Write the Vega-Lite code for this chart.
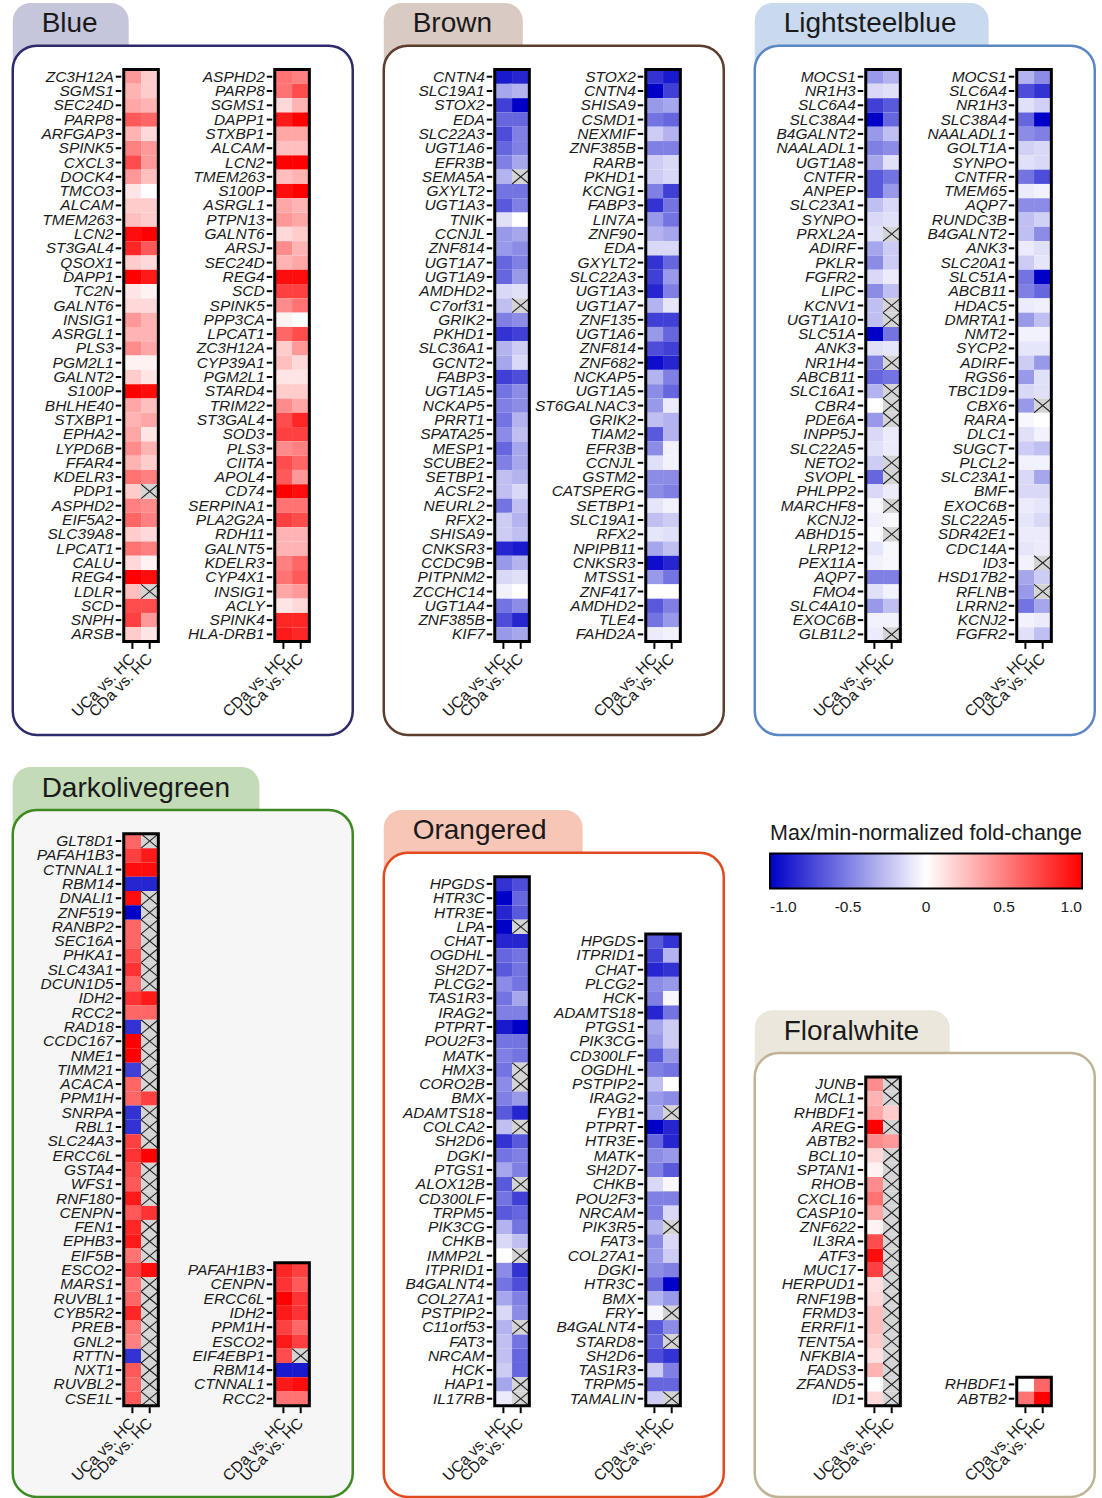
{
"$schema": "https://vega.github.io/schema/vega-lite/v6.json",
"background": "white",
"padding": {"left": 10.75, "top": 3, "right": 8, "bottom": 1},
"config": {
  "view": {"stroke": null},
  "axis": {"disable": true},
  "font": "Liberation Sans",
  "legend": {"orient": "none", "legendX": 757.25, "legendY": 820, "direction": "horizontal", "gradientLength": 312, "gradientThickness": 35, "gradientStrokeColor": "#000000", "gradientStrokeWidth": 2, "titleFontSize": 21.5, "titleFontWeight": "normal", "titleColor": "#1a1a1a", "titlePadding": 9, "titleLimit": 400, "labelFontSize": 15.5, "labelColor": "#1a1a1a", "labelOverlap": false, "padding": 0}
},
"datasets": {
"cols": [
{"m":"A","key":"v1","t":"UCa vs. HC"},{"m":"A","key":"v2","t":"CDa vs. HC"},{"m":"B","key":"v1","t":"CDa vs. HC"},{"m":"B","key":"v2","t":"UCa vs. HC"}
],
"cells": [
{"p":"Blue","m":"A","r":0,"g":"ZC3H12A","v1":0.4,"v2":0.2},
{"p":"Blue","m":"A","r":1,"g":"SGMS1","v1":0.3,"v2":0.2},
{"p":"Blue","m":"A","r":2,"g":"SEC24D","v1":0.35,"v2":0.3},
{"p":"Blue","m":"A","r":3,"g":"PARP8","v1":0.65,"v2":0.6},
{"p":"Blue","m":"A","r":4,"g":"ARFGAP3","v1":0.3,"v2":0.15},
{"p":"Blue","m":"A","r":5,"g":"SPINK5","v1":0.5,"v2":0.4},
{"p":"Blue","m":"A","r":6,"g":"CXCL3","v1":0.7,"v2":0.4},
{"p":"Blue","m":"A","r":7,"g":"DOCK4","v1":0.4,"v2":0.25},
{"p":"Blue","m":"A","r":8,"g":"TMCO3","v1":0.1,"v2":0},
{"p":"Blue","m":"A","r":9,"g":"ALCAM","v1":0.2,"v2":0.2},
{"p":"Blue","m":"A","r":10,"g":"TMEM263","v1":0.25,"v2":0.2},
{"p":"Blue","m":"A","r":11,"g":"LCN2","v1":0.95,"v2":1},
{"p":"Blue","m":"A","r":12,"g":"ST3GAL4","v1":0.85,"v2":0.65},
{"p":"Blue","m":"A","r":13,"g":"QSOX1","v1":0.2,"v2":0.15},
{"p":"Blue","m":"A","r":14,"g":"DAPP1","v1":1,"v2":0.9},
{"p":"Blue","m":"A","r":15,"g":"TC2N","v1":0.1,"v2":0.05},
{"p":"Blue","m":"A","r":16,"g":"GALNT6","v1":0.15,"v2":0.15},
{"p":"Blue","m":"A","r":17,"g":"INSIG1","v1":0.4,"v2":0.3},
{"p":"Blue","m":"A","r":18,"g":"ASRGL1","v1":0.3,"v2":0.3},
{"p":"Blue","m":"A","r":19,"g":"PLS3","v1":0.45,"v2":0.35},
{"p":"Blue","m":"A","r":20,"g":"PGM2L1","v1":0.05,"v2":0.05},
{"p":"Blue","m":"A","r":21,"g":"GALNT2","v1":0.2,"v2":0.1},
{"p":"Blue","m":"A","r":22,"g":"S100P","v1":1,"v2":0.95},
{"p":"Blue","m":"A","r":23,"g":"BHLHE40","v1":0.35,"v2":0.25},
{"p":"Blue","m":"A","r":24,"g":"STXBP1","v1":0.3,"v2":0.35},
{"p":"Blue","m":"A","r":25,"g":"EPHA2","v1":0.35,"v2":0.1},
{"p":"Blue","m":"A","r":26,"g":"LYPD6B","v1":0.45,"v2":0.3},
{"p":"Blue","m":"A","r":27,"g":"FFAR4","v1":0.3,"v2":0.2},
{"p":"Blue","m":"A","r":28,"g":"KDELR3","v1":0.55,"v2":0.5},
{"p":"Blue","m":"A","r":29,"g":"PDP1","v1":0.2,"v2":null},
{"p":"Blue","m":"A","r":30,"g":"ASPHD2","v1":0.5,"v2":0.45},
{"p":"Blue","m":"A","r":31,"g":"EIF5A2","v1":0.6,"v2":0.5},
{"p":"Blue","m":"A","r":32,"g":"SLC39A8","v1":0.2,"v2":0.15},
{"p":"Blue","m":"A","r":33,"g":"LPCAT1","v1":0.55,"v2":0.5},
{"p":"Blue","m":"A","r":34,"g":"CALU","v1":0.15,"v2":0.05},
{"p":"Blue","m":"A","r":35,"g":"REG4","v1":1,"v2":0.95},
{"p":"Blue","m":"A","r":36,"g":"LDLR","v1":0.25,"v2":null},
{"p":"Blue","m":"A","r":37,"g":"SCD","v1":0.7,"v2":0.7},
{"p":"Blue","m":"A","r":38,"g":"SNPH","v1":0.75,"v2":0.4},
{"p":"Blue","m":"A","r":39,"g":"ARSB","v1":0.2,"v2":0.1},
{"p":"Blue","m":"B","r":0,"g":"ASPHD2","v1":0.55,"v2":0.5},
{"p":"Blue","m":"B","r":1,"g":"PARP8","v1":0.55,"v2":0.7},
{"p":"Blue","m":"B","r":2,"g":"SGMS1","v1":0.15,"v2":0.3},
{"p":"Blue","m":"B","r":3,"g":"DAPP1","v1":0.9,"v2":1},
{"p":"Blue","m":"B","r":4,"g":"STXBP1","v1":0.35,"v2":0.35},
{"p":"Blue","m":"B","r":5,"g":"ALCAM","v1":0.25,"v2":0.25},
{"p":"Blue","m":"B","r":6,"g":"LCN2","v1":1,"v2":1},
{"p":"Blue","m":"B","r":7,"g":"TMEM263","v1":0.25,"v2":0.3},
{"p":"Blue","m":"B","r":8,"g":"S100P","v1":0.95,"v2":1},
{"p":"Blue","m":"B","r":9,"g":"ASRGL1","v1":0.35,"v2":0.3},
{"p":"Blue","m":"B","r":10,"g":"PTPN13","v1":0.4,"v2":0.35},
{"p":"Blue","m":"B","r":11,"g":"GALNT6","v1":0.15,"v2":0.2},
{"p":"Blue","m":"B","r":12,"g":"ARSJ","v1":0.45,"v2":0.3},
{"p":"Blue","m":"B","r":13,"g":"SEC24D","v1":0.3,"v2":0.35},
{"p":"Blue","m":"B","r":14,"g":"REG4","v1":0.95,"v2":0.95},
{"p":"Blue","m":"B","r":15,"g":"SCD","v1":0.75,"v2":0.75},
{"p":"Blue","m":"B","r":16,"g":"SPINK5","v1":0.45,"v2":0.55},
{"p":"Blue","m":"B","r":17,"g":"PPP3CA","v1":0.05,"v2":0},
{"p":"Blue","m":"B","r":18,"g":"LPCAT1","v1":0.6,"v2":0.7},
{"p":"Blue","m":"B","r":19,"g":"ZC3H12A","v1":0.2,"v2":0.4},
{"p":"Blue","m":"B","r":20,"g":"CYP39A1","v1":0.25,"v2":0.15},
{"p":"Blue","m":"B","r":21,"g":"PGM2L1","v1":0.1,"v2":0.1},
{"p":"Blue","m":"B","r":22,"g":"STARD4","v1":0.2,"v2":0.2},
{"p":"Blue","m":"B","r":23,"g":"TRIM22","v1":0.45,"v2":0.35},
{"p":"Blue","m":"B","r":24,"g":"ST3GAL4","v1":0.7,"v2":0.85},
{"p":"Blue","m":"B","r":25,"g":"SOD3","v1":0.75,"v2":0.75},
{"p":"Blue","m":"B","r":26,"g":"PLS3","v1":0.45,"v2":0.5},
{"p":"Blue","m":"B","r":27,"g":"CIITA","v1":0.7,"v2":0.6},
{"p":"Blue","m":"B","r":28,"g":"APOL4","v1":0.65,"v2":0.4},
{"p":"Blue","m":"B","r":29,"g":"CD74","v1":1,"v2":0.95},
{"p":"Blue","m":"B","r":30,"g":"SERPINA1","v1":0.55,"v2":0.55},
{"p":"Blue","m":"B","r":31,"g":"PLA2G2A","v1":0.75,"v2":0.7},
{"p":"Blue","m":"B","r":32,"g":"RDH11","v1":0.3,"v2":0.3},
{"p":"Blue","m":"B","r":33,"g":"GALNT5","v1":0.3,"v2":0.3},
{"p":"Blue","m":"B","r":34,"g":"KDELR3","v1":0.5,"v2":0.6},
{"p":"Blue","m":"B","r":35,"g":"CYP4X1","v1":0.55,"v2":0.65},
{"p":"Blue","m":"B","r":36,"g":"INSIG1","v1":0.35,"v2":0.4},
{"p":"Blue","m":"B","r":37,"g":"ACLY","v1":0.1,"v2":0.15},
{"p":"Blue","m":"B","r":38,"g":"SPINK4","v1":0.85,"v2":0.85},
{"p":"Blue","m":"B","r":39,"g":"HLA-DRB1","v1":0.9,"v2":0.85},
{"p":"Brown","m":"A","r":0,"g":"CNTN4","v1":-0.9,"v2":-0.85},
{"p":"Brown","m":"A","r":1,"g":"SLC19A1","v1":-0.35,"v2":-0.3},
{"p":"Brown","m":"A","r":2,"g":"STOX2","v1":-0.75,"v2":-1},
{"p":"Brown","m":"A","r":3,"g":"EDA","v1":-0.6,"v2":-0.6},
{"p":"Brown","m":"A","r":4,"g":"SLC22A3","v1":-0.7,"v2":-0.5},
{"p":"Brown","m":"A","r":5,"g":"UGT1A6","v1":-0.6,"v2":-0.5},
{"p":"Brown","m":"A","r":6,"g":"EFR3B","v1":-0.5,"v2":-0.35},
{"p":"Brown","m":"A","r":7,"g":"SEMA5A","v1":-0.3,"v2":null},
{"p":"Brown","m":"A","r":8,"g":"GXYLT2","v1":-0.55,"v2":-0.55},
{"p":"Brown","m":"A","r":9,"g":"UGT1A3","v1":-0.65,"v2":-0.5},
{"p":"Brown","m":"A","r":10,"g":"TNIK","v1":-0.12,"v2":0},
{"p":"Brown","m":"A","r":11,"g":"CCNJL","v1":-0.4,"v2":-0.35},
{"p":"Brown","m":"A","r":12,"g":"ZNF814","v1":-0.4,"v2":-0.45},
{"p":"Brown","m":"A","r":13,"g":"UGT1A7","v1":-0.6,"v2":-0.5},
{"p":"Brown","m":"A","r":14,"g":"UGT1A9","v1":-0.6,"v2":-0.4},
{"p":"Brown","m":"A","r":15,"g":"AMDHD2","v1":-0.15,"v2":-0.12},
{"p":"Brown","m":"A","r":16,"g":"C7orf31","v1":-0.25,"v2":null},
{"p":"Brown","m":"A","r":17,"g":"GRIK2","v1":-0.5,"v2":-0.45},
{"p":"Brown","m":"A","r":18,"g":"PKHD1","v1":-0.8,"v2":-0.75},
{"p":"Brown","m":"A","r":19,"g":"SLC36A1","v1":-0.3,"v2":-0.2},
{"p":"Brown","m":"A","r":20,"g":"GCNT2","v1":-0.35,"v2":-0.15},
{"p":"Brown","m":"A","r":21,"g":"FABP3","v1":-0.75,"v2":-0.7},
{"p":"Brown","m":"A","r":22,"g":"UGT1A5","v1":-0.55,"v2":-0.45},
{"p":"Brown","m":"A","r":23,"g":"NCKAP5","v1":-0.5,"v2":-0.45},
{"p":"Brown","m":"A","r":24,"g":"PRRT1","v1":-0.55,"v2":-0.3},
{"p":"Brown","m":"A","r":25,"g":"SPATA25","v1":-0.45,"v2":-0.25},
{"p":"Brown","m":"A","r":26,"g":"MESP1","v1":-0.6,"v2":-0.35},
{"p":"Brown","m":"A","r":27,"g":"SCUBE2","v1":-0.5,"v2":-0.35},
{"p":"Brown","m":"A","r":28,"g":"SETBP1","v1":-0.25,"v2":-0.3},
{"p":"Brown","m":"A","r":29,"g":"ACSF2","v1":-0.25,"v2":-0.15},
{"p":"Brown","m":"A","r":30,"g":"NEURL2","v1":-0.55,"v2":-0.25},
{"p":"Brown","m":"A","r":31,"g":"RFX2","v1":-0.2,"v2":-0.3},
{"p":"Brown","m":"A","r":32,"g":"SHISA9","v1":-0.2,"v2":-0.25},
{"p":"Brown","m":"A","r":33,"g":"CNKSR3","v1":-0.85,"v2":-0.9},
{"p":"Brown","m":"A","r":34,"g":"CCDC9B","v1":-0.4,"v2":-0.3},
{"p":"Brown","m":"A","r":35,"g":"PITPNM2","v1":-0.15,"v2":-0.12},
{"p":"Brown","m":"A","r":36,"g":"ZCCHC14","v1":-0.05,"v2":0},
{"p":"Brown","m":"A","r":37,"g":"UGT1A4","v1":-0.55,"v2":-0.45},
{"p":"Brown","m":"A","r":38,"g":"ZNF385B","v1":-0.7,"v2":-0.85},
{"p":"Brown","m":"A","r":39,"g":"KIF7","v1":-0.4,"v2":-0.35},
{"p":"Brown","m":"B","r":0,"g":"STOX2","v1":-0.8,"v2":-0.9},
{"p":"Brown","m":"B","r":1,"g":"CNTN4","v1":-1,"v2":-0.75},
{"p":"Brown","m":"B","r":2,"g":"SHISA9","v1":-0.4,"v2":-0.35},
{"p":"Brown","m":"B","r":3,"g":"CSMD1","v1":-0.55,"v2":-0.6},
{"p":"Brown","m":"B","r":4,"g":"NEXMIF","v1":-0.2,"v2":-0.3},
{"p":"Brown","m":"B","r":5,"g":"ZNF385B","v1":-0.5,"v2":-0.5},
{"p":"Brown","m":"B","r":6,"g":"RARB","v1":-0.2,"v2":-0.15},
{"p":"Brown","m":"B","r":7,"g":"PKHD1","v1":-0.2,"v2":-0.15},
{"p":"Brown","m":"B","r":8,"g":"KCNG1","v1":-0.5,"v2":-0.75},
{"p":"Brown","m":"B","r":9,"g":"FABP3","v1":-0.8,"v2":-0.55},
{"p":"Brown","m":"B","r":10,"g":"LIN7A","v1":-0.4,"v2":-0.55},
{"p":"Brown","m":"B","r":11,"g":"ZNF90","v1":-0.3,"v2":-0.35},
{"p":"Brown","m":"B","r":12,"g":"EDA","v1":-0.15,"v2":-0.15},
{"p":"Brown","m":"B","r":13,"g":"GXYLT2","v1":-0.8,"v2":-0.6},
{"p":"Brown","m":"B","r":14,"g":"SLC22A3","v1":-0.75,"v2":-0.4},
{"p":"Brown","m":"B","r":15,"g":"UGT1A3","v1":-0.85,"v2":-0.5},
{"p":"Brown","m":"B","r":16,"g":"UGT1A7","v1":-0.3,"v2":-0.1},
{"p":"Brown","m":"B","r":17,"g":"ZNF135","v1":-0.75,"v2":-0.75},
{"p":"Brown","m":"B","r":18,"g":"UGT1A6","v1":-0.4,"v2":-0.6},
{"p":"Brown","m":"B","r":19,"g":"ZNF814","v1":-0.7,"v2":-0.75},
{"p":"Brown","m":"B","r":20,"g":"ZNF682","v1":-0.95,"v2":-0.85},
{"p":"Brown","m":"B","r":21,"g":"NCKAP5","v1":-0.3,"v2":-0.5},
{"p":"Brown","m":"B","r":22,"g":"UGT1A5","v1":-0.45,"v2":-0.6},
{"p":"Brown","m":"B","r":23,"g":"ST6GALNAC3","v1":-0.4,"v2":-0.08},
{"p":"Brown","m":"B","r":24,"g":"GRIK2","v1":-0.25,"v2":-0.3},
{"p":"Brown","m":"B","r":25,"g":"TIAM2","v1":-0.65,"v2":-0.3},
{"p":"Brown","m":"B","r":26,"g":"EFR3B","v1":-0.45,"v2":-0.05},
{"p":"Brown","m":"B","r":27,"g":"CCNJL","v1":-0.12,"v2":-0.05},
{"p":"Brown","m":"B","r":28,"g":"GSTM2","v1":-0.45,"v2":-0.45},
{"p":"Brown","m":"B","r":29,"g":"CATSPERG","v1":-0.45,"v2":-0.5},
{"p":"Brown","m":"B","r":30,"g":"SETBP1","v1":-0.1,"v2":-0.05},
{"p":"Brown","m":"B","r":31,"g":"SLC19A1","v1":-0.25,"v2":-0.2},
{"p":"Brown","m":"B","r":32,"g":"RFX2","v1":-0.1,"v2":-0.12},
{"p":"Brown","m":"B","r":33,"g":"NPIPB11","v1":-0.35,"v2":-0.25},
{"p":"Brown","m":"B","r":34,"g":"CNKSR3","v1":-0.95,"v2":-0.85},
{"p":"Brown","m":"B","r":35,"g":"MTSS1","v1":-0.4,"v2":-0.55},
{"p":"Brown","m":"B","r":36,"g":"ZNF417","v1":0,"v2":0},
{"p":"Brown","m":"B","r":37,"g":"AMDHD2","v1":-0.65,"v2":-0.5},
{"p":"Brown","m":"B","r":38,"g":"TLE4","v1":-0.55,"v2":-0.4},
{"p":"Brown","m":"B","r":39,"g":"FAHD2A","v1":-0.08,"v2":-0.05},
{"p":"LSB","m":"A","r":0,"g":"MOCS1","v1":-0.4,"v2":-0.3},
{"p":"LSB","m":"A","r":1,"g":"NR1H3","v1":-0.15,"v2":-0.12},
{"p":"LSB","m":"A","r":2,"g":"SLC6A4","v1":-0.75,"v2":-0.65},
{"p":"LSB","m":"A","r":3,"g":"SLC38A4","v1":-1,"v2":-0.6},
{"p":"LSB","m":"A","r":4,"g":"B4GALNT2","v1":-0.4,"v2":-0.25},
{"p":"LSB","m":"A","r":5,"g":"NAALADL1","v1":-0.5,"v2":-0.45},
{"p":"LSB","m":"A","r":6,"g":"UGT1A8","v1":-0.35,"v2":-0.12},
{"p":"LSB","m":"A","r":7,"g":"CNTFR","v1":-0.65,"v2":-0.55},
{"p":"LSB","m":"A","r":8,"g":"ANPEP","v1":-0.65,"v2":-0.4},
{"p":"LSB","m":"A","r":9,"g":"SLC23A1","v1":-0.25,"v2":-0.15},
{"p":"LSB","m":"A","r":10,"g":"SYNPO","v1":-0.15,"v2":-0.12},
{"p":"LSB","m":"A","r":11,"g":"PRXL2A","v1":-0.12,"v2":null},
{"p":"LSB","m":"A","r":12,"g":"ADIRF","v1":-0.35,"v2":-0.2},
{"p":"LSB","m":"A","r":13,"g":"PKLR","v1":-0.45,"v2":-0.2},
{"p":"LSB","m":"A","r":14,"g":"FGFR2","v1":-0.15,"v2":-0.08},
{"p":"LSB","m":"A","r":15,"g":"LIPC","v1":-0.45,"v2":-0.25},
{"p":"LSB","m":"A","r":16,"g":"KCNV1","v1":-0.25,"v2":null},
{"p":"LSB","m":"A","r":17,"g":"UGT1A10","v1":-0.25,"v2":null},
{"p":"LSB","m":"A","r":18,"g":"SLC51A","v1":-1,"v2":-0.55},
{"p":"LSB","m":"A","r":19,"g":"ANK3","v1":-0.12,"v2":-0.1},
{"p":"LSB","m":"A","r":20,"g":"NR1H4","v1":-0.5,"v2":null},
{"p":"LSB","m":"A","r":21,"g":"ABCB11","v1":-0.6,"v2":-0.55},
{"p":"LSB","m":"A","r":22,"g":"SLC16A1","v1":-0.3,"v2":null},
{"p":"LSB","m":"A","r":23,"g":"CBR4","v1":0,"v2":null},
{"p":"LSB","m":"A","r":24,"g":"PDE6A","v1":-0.4,"v2":null},
{"p":"LSB","m":"A","r":25,"g":"INPP5J","v1":-0.15,"v2":-0.08},
{"p":"LSB","m":"A","r":26,"g":"SLC22A5","v1":-0.12,"v2":-0.08},
{"p":"LSB","m":"A","r":27,"g":"NETO2","v1":-0.2,"v2":null},
{"p":"LSB","m":"A","r":28,"g":"SVOPL","v1":-0.6,"v2":null},
{"p":"LSB","m":"A","r":29,"g":"PHLPP2","v1":-0.15,"v2":-0.08},
{"p":"LSB","m":"A","r":30,"g":"MARCHF8","v1":-0.03,"v2":null},
{"p":"LSB","m":"A","r":31,"g":"KCNJ2","v1":-0.06,"v2":-0.03},
{"p":"LSB","m":"A","r":32,"g":"ABHD15","v1":-0.02,"v2":null},
{"p":"LSB","m":"A","r":33,"g":"LRP12","v1":-0.1,"v2":-0.03},
{"p":"LSB","m":"A","r":34,"g":"PEX11A","v1":-0.05,"v2":-0.03},
{"p":"LSB","m":"A","r":35,"g":"AQP7","v1":-0.5,"v2":-0.5},
{"p":"LSB","m":"A","r":36,"g":"FMO4","v1":-0.12,"v2":-0.05},
{"p":"LSB","m":"A","r":37,"g":"SLC4A10","v1":-0.4,"v2":-0.25},
{"p":"LSB","m":"A","r":38,"g":"EXOC6B","v1":-0.05,"v2":-0.05},
{"p":"LSB","m":"A","r":39,"g":"GLB1L2","v1":-0.08,"v2":null},
{"p":"LSB","m":"B","r":0,"g":"MOCS1","v1":-0.3,"v2":-0.45},
{"p":"LSB","m":"B","r":1,"g":"SLC6A4","v1":-0.7,"v2":-0.8},
{"p":"LSB","m":"B","r":2,"g":"NR1H3","v1":-0.12,"v2":-0.18},
{"p":"LSB","m":"B","r":3,"g":"SLC38A4","v1":-0.6,"v2":-1},
{"p":"LSB","m":"B","r":4,"g":"NAALADL1","v1":-0.45,"v2":-0.5},
{"p":"LSB","m":"B","r":5,"g":"GOLT1A","v1":-0.18,"v2":-0.15},
{"p":"LSB","m":"B","r":6,"g":"SYNPO","v1":-0.12,"v2":-0.15},
{"p":"LSB","m":"B","r":7,"g":"CNTFR","v1":-0.55,"v2":-0.7},
{"p":"LSB","m":"B","r":8,"g":"TMEM65","v1":-0.08,"v2":-0.05},
{"p":"LSB","m":"B","r":9,"g":"AQP7","v1":-0.45,"v2":-0.45},
{"p":"LSB","m":"B","r":10,"g":"RUNDC3B","v1":-0.25,"v2":-0.18},
{"p":"LSB","m":"B","r":11,"g":"B4GALNT2","v1":-0.25,"v2":-0.45},
{"p":"LSB","m":"B","r":12,"g":"ANK3","v1":-0.08,"v2":-0.12},
{"p":"LSB","m":"B","r":13,"g":"SLC20A1","v1":-0.2,"v2":-0.1},
{"p":"LSB","m":"B","r":14,"g":"SLC51A","v1":-0.55,"v2":-1},
{"p":"LSB","m":"B","r":15,"g":"ABCB11","v1":-0.5,"v2":-0.6},
{"p":"LSB","m":"B","r":16,"g":"HDAC5","v1":-0.08,"v2":-0.06},
{"p":"LSB","m":"B","r":17,"g":"DMRTA1","v1":-0.4,"v2":-0.25},
{"p":"LSB","m":"B","r":18,"g":"NMT2","v1":-0.05,"v2":-0.05},
{"p":"LSB","m":"B","r":19,"g":"SYCP2","v1":-0.1,"v2":-0.1},
{"p":"LSB","m":"B","r":20,"g":"ADIRF","v1":-0.2,"v2":-0.4},
{"p":"LSB","m":"B","r":21,"g":"RGS6","v1":-0.4,"v2":-0.12},
{"p":"LSB","m":"B","r":22,"g":"TBC1D9","v1":-0.15,"v2":-0.12},
{"p":"LSB","m":"B","r":23,"g":"CBX6","v1":-0.4,"v2":null},
{"p":"LSB","m":"B","r":24,"g":"RARA","v1":-0.03,"v2":0},
{"p":"LSB","m":"B","r":25,"g":"DLC1","v1":-0.12,"v2":-0.05},
{"p":"LSB","m":"B","r":26,"g":"SUGCT","v1":-0.2,"v2":-0.25},
{"p":"LSB","m":"B","r":27,"g":"PLCL2","v1":-0.05,"v2":-0.05},
{"p":"LSB","m":"B","r":28,"g":"SLC23A1","v1":-0.15,"v2":-0.35},
{"p":"LSB","m":"B","r":29,"g":"BMF","v1":-0.15,"v2":-0.15},
{"p":"LSB","m":"B","r":30,"g":"EXOC6B","v1":-0.08,"v2":-0.1},
{"p":"LSB","m":"B","r":31,"g":"SLC22A5","v1":-0.1,"v2":-0.15},
{"p":"LSB","m":"B","r":32,"g":"SDR42E1","v1":-0.08,"v2":-0.08},
{"p":"LSB","m":"B","r":33,"g":"CDC14A","v1":-0.1,"v2":-0.08},
{"p":"LSB","m":"B","r":34,"g":"ID3","v1":-0.05,"v2":null},
{"p":"LSB","m":"B","r":35,"g":"HSD17B2","v1":-0.35,"v2":-0.2},
{"p":"LSB","m":"B","r":36,"g":"RFLNB","v1":-0.4,"v2":null},
{"p":"LSB","m":"B","r":37,"g":"LRRN2","v1":-0.55,"v2":-0.35},
{"p":"LSB","m":"B","r":38,"g":"KCNJ2","v1":-0.05,"v2":-0.08},
{"p":"LSB","m":"B","r":39,"g":"FGFR2","v1":-0.12,"v2":-0.25},
{"p":"DOG","m":"A","r":0,"g":"GLT8D1","v1":0.6,"v2":null},
{"p":"DOG","m":"A","r":1,"g":"PAFAH1B3","v1":0.75,"v2":0.9},
{"p":"DOG","m":"A","r":2,"g":"CTNNAL1","v1":0.95,"v2":0.95},
{"p":"DOG","m":"A","r":3,"g":"RBM14","v1":-0.85,"v2":-0.85},
{"p":"DOG","m":"A","r":4,"g":"DNALI1","v1":0.95,"v2":null},
{"p":"DOG","m":"A","r":5,"g":"ZNF519","v1":-1,"v2":null},
{"p":"DOG","m":"A","r":6,"g":"RANBP2","v1":0.6,"v2":null},
{"p":"DOG","m":"A","r":7,"g":"SEC16A","v1":0.6,"v2":null},
{"p":"DOG","m":"A","r":8,"g":"PHKA1","v1":0.7,"v2":null},
{"p":"DOG","m":"A","r":9,"g":"SLC43A1","v1":0.8,"v2":null},
{"p":"DOG","m":"A","r":10,"g":"DCUN1D5","v1":0.6,"v2":null},
{"p":"DOG","m":"A","r":11,"g":"IDH2","v1":0.8,"v2":0.9},
{"p":"DOG","m":"A","r":12,"g":"RCC2","v1":0.6,"v2":0.6},
{"p":"DOG","m":"A","r":13,"g":"RAD18","v1":-0.8,"v2":null},
{"p":"DOG","m":"A","r":14,"g":"CCDC167","v1":1,"v2":null},
{"p":"DOG","m":"A","r":15,"g":"NME1","v1":1,"v2":null},
{"p":"DOG","m":"A","r":16,"g":"TIMM21","v1":-0.75,"v2":null},
{"p":"DOG","m":"A","r":17,"g":"ACACA","v1":0.6,"v2":null},
{"p":"DOG","m":"A","r":18,"g":"PPM1H","v1":0.6,"v2":0.75},
{"p":"DOG","m":"A","r":19,"g":"SNRPA","v1":-0.8,"v2":null},
{"p":"DOG","m":"A","r":20,"g":"RBL1","v1":-0.8,"v2":null},
{"p":"DOG","m":"A","r":21,"g":"SLC24A3","v1":0.75,"v2":null},
{"p":"DOG","m":"A","r":22,"g":"ERCC6L","v1":0.8,"v2":1},
{"p":"DOG","m":"A","r":23,"g":"GSTA4","v1":0.7,"v2":null},
{"p":"DOG","m":"A","r":24,"g":"WFS1","v1":0.65,"v2":null},
{"p":"DOG","m":"A","r":25,"g":"RNF180","v1":0.9,"v2":null},
{"p":"DOG","m":"A","r":26,"g":"CENPN","v1":0.65,"v2":0.8},
{"p":"DOG","m":"A","r":27,"g":"FEN1","v1":0.85,"v2":null},
{"p":"DOG","m":"A","r":28,"g":"EPHB3","v1":0.9,"v2":null},
{"p":"DOG","m":"A","r":29,"g":"EIF5B","v1":0.55,"v2":null},
{"p":"DOG","m":"A","r":30,"g":"ESCO2","v1":0.75,"v2":0.95},
{"p":"DOG","m":"A","r":31,"g":"MARS1","v1":0.55,"v2":null},
{"p":"DOG","m":"A","r":32,"g":"RUVBL1","v1":0.6,"v2":null},
{"p":"DOG","m":"A","r":33,"g":"CYB5R2","v1":0.85,"v2":null},
{"p":"DOG","m":"A","r":34,"g":"PREB","v1":0.55,"v2":null},
{"p":"DOG","m":"A","r":35,"g":"GNL2","v1":0.5,"v2":null},
{"p":"DOG","m":"A","r":36,"g":"RTTN","v1":-0.8,"v2":null},
{"p":"DOG","m":"A","r":37,"g":"NXT1","v1":0.65,"v2":null},
{"p":"DOG","m":"A","r":38,"g":"RUVBL2","v1":0.6,"v2":null},
{"p":"DOG","m":"A","r":39,"g":"CSE1L","v1":0.65,"v2":null},
{"p":"DOG","m":"B","r":30,"g":"PAFAH1B3","v1":0.85,"v2":0.75},
{"p":"DOG","m":"B","r":31,"g":"CENPN","v1":0.8,"v2":0.65},
{"p":"DOG","m":"B","r":32,"g":"ERCC6L","v1":1,"v2":0.8},
{"p":"DOG","m":"B","r":33,"g":"IDH2","v1":0.9,"v2":0.8},
{"p":"DOG","m":"B","r":34,"g":"PPM1H","v1":0.75,"v2":0.6},
{"p":"DOG","m":"B","r":35,"g":"ESCO2","v1":0.9,"v2":0.75},
{"p":"DOG","m":"B","r":36,"g":"EIF4EBP1","v1":0.7,"v2":null},
{"p":"DOG","m":"B","r":37,"g":"RBM14","v1":-0.9,"v2":-0.9},
{"p":"DOG","m":"B","r":38,"g":"CTNNAL1","v1":0.9,"v2":0.95},
{"p":"DOG","m":"B","r":39,"g":"RCC2","v1":0.55,"v2":0.55},
{"p":"OR","m":"A","r":0,"g":"HPGDS","v1":-0.8,"v2":-0.7},
{"p":"OR","m":"A","r":1,"g":"HTR3C","v1":-1,"v2":-0.6},
{"p":"OR","m":"A","r":2,"g":"HTR3E","v1":-0.85,"v2":-0.65},
{"p":"OR","m":"A","r":3,"g":"LPA","v1":-1,"v2":null},
{"p":"OR","m":"A","r":4,"g":"CHAT","v1":-0.85,"v2":-0.85},
{"p":"OR","m":"A","r":5,"g":"OGDHL","v1":-0.6,"v2":-0.55},
{"p":"OR","m":"A","r":6,"g":"SH2D7","v1":-0.65,"v2":-0.55},
{"p":"OR","m":"A","r":7,"g":"PLCG2","v1":-0.45,"v2":-0.55},
{"p":"OR","m":"A","r":8,"g":"TAS1R3","v1":-0.55,"v2":-0.35},
{"p":"OR","m":"A","r":9,"g":"IRAG2","v1":-0.5,"v2":-0.5},
{"p":"OR","m":"A","r":10,"g":"PTPRT","v1":-0.9,"v2":-1},
{"p":"OR","m":"A","r":11,"g":"POU2F3","v1":-0.55,"v2":-0.55},
{"p":"OR","m":"A","r":12,"g":"MATK","v1":-0.5,"v2":-0.55},
{"p":"OR","m":"A","r":13,"g":"HMX3","v1":-0.55,"v2":null},
{"p":"OR","m":"A","r":14,"g":"CORO2B","v1":-0.45,"v2":null},
{"p":"OR","m":"A","r":15,"g":"BMX","v1":-0.5,"v2":-0.4},
{"p":"OR","m":"A","r":16,"g":"ADAMTS18","v1":-0.65,"v2":-0.85},
{"p":"OR","m":"A","r":17,"g":"COLCA2","v1":-0.25,"v2":null},
{"p":"OR","m":"A","r":18,"g":"SH2D6","v1":-0.8,"v2":-0.65},
{"p":"OR","m":"A","r":19,"g":"DGKI","v1":-0.55,"v2":-0.5},
{"p":"OR","m":"A","r":20,"g":"PTGS1","v1":-0.35,"v2":-0.5},
{"p":"OR","m":"A","r":21,"g":"ALOX12B","v1":-0.65,"v2":null},
{"p":"OR","m":"A","r":22,"g":"CD300LF","v1":-0.55,"v2":-0.75},
{"p":"OR","m":"A","r":23,"g":"TRPM5","v1":-0.65,"v2":-0.6},
{"p":"OR","m":"A","r":24,"g":"PIK3CG","v1":-0.3,"v2":-0.55},
{"p":"OR","m":"A","r":25,"g":"CHKB","v1":-0.15,"v2":-0.25},
{"p":"OR","m":"A","r":26,"g":"IMMP2L","v1":0,"v2":null},
{"p":"OR","m":"A","r":27,"g":"ITPRID1","v1":-0.45,"v2":-0.8},
{"p":"OR","m":"A","r":28,"g":"B4GALNT4","v1":-0.55,"v2":-0.7},
{"p":"OR","m":"A","r":29,"g":"COL27A1","v1":-0.35,"v2":-0.5},
{"p":"OR","m":"A","r":30,"g":"PSTPIP2","v1":-0.15,"v2":-0.45},
{"p":"OR","m":"A","r":31,"g":"C11orf53","v1":-0.3,"v2":null},
{"p":"OR","m":"A","r":32,"g":"FAT3","v1":-0.25,"v2":-0.55},
{"p":"OR","m":"A","r":33,"g":"NRCAM","v1":-0.25,"v2":-0.6},
{"p":"OR","m":"A","r":34,"g":"HCK","v1":-0.2,"v2":-0.6},
{"p":"OR","m":"A","r":35,"g":"HAP1","v1":-0.35,"v2":null},
{"p":"OR","m":"A","r":36,"g":"IL17RB","v1":-0.08,"v2":null},
{"p":"OR","m":"B","r":4,"g":"HPGDS","v1":-0.65,"v2":-0.8},
{"p":"OR","m":"B","r":5,"g":"ITPRID1","v1":-0.75,"v2":-0.3},
{"p":"OR","m":"B","r":6,"g":"CHAT","v1":-0.85,"v2":-0.8},
{"p":"OR","m":"B","r":7,"g":"PLCG2","v1":-0.45,"v2":-0.4},
{"p":"OR","m":"B","r":8,"g":"HCK","v1":-0.5,"v2":-0.03},
{"p":"OR","m":"B","r":9,"g":"ADAMTS18","v1":-0.85,"v2":-0.55},
{"p":"OR","m":"B","r":10,"g":"PTGS1","v1":-0.35,"v2":-0.2},
{"p":"OR","m":"B","r":11,"g":"PIK3CG","v1":-0.4,"v2":-0.2},
{"p":"OR","m":"B","r":12,"g":"CD300LF","v1":-0.65,"v2":-0.4},
{"p":"OR","m":"B","r":13,"g":"OGDHL","v1":-0.5,"v2":-0.55},
{"p":"OR","m":"B","r":14,"g":"PSTPIP2","v1":-0.25,"v2":0},
{"p":"OR","m":"B","r":15,"g":"IRAG2","v1":-0.4,"v2":-0.45},
{"p":"OR","m":"B","r":16,"g":"FYB1","v1":-0.35,"v2":null},
{"p":"OR","m":"B","r":17,"g":"PTPRT","v1":-1,"v2":-0.85},
{"p":"OR","m":"B","r":18,"g":"HTR3E","v1":-0.6,"v2":-0.85},
{"p":"OR","m":"B","r":19,"g":"MATK","v1":-0.45,"v2":-0.4},
{"p":"OR","m":"B","r":20,"g":"SH2D7","v1":-0.5,"v2":-0.65},
{"p":"OR","m":"B","r":21,"g":"CHKB","v1":-0.15,"v2":-0.03},
{"p":"OR","m":"B","r":22,"g":"POU2F3","v1":-0.5,"v2":-0.5},
{"p":"OR","m":"B","r":23,"g":"NRCAM","v1":-0.5,"v2":-0.15},
{"p":"OR","m":"B","r":24,"g":"PIK3R5","v1":-0.3,"v2":null},
{"p":"OR","m":"B","r":25,"g":"FAT3","v1":-0.45,"v2":-0.15},
{"p":"OR","m":"B","r":26,"g":"COL27A1","v1":-0.4,"v2":-0.2},
{"p":"OR","m":"B","r":27,"g":"DGKI","v1":-0.45,"v2":-0.5},
{"p":"OR","m":"B","r":28,"g":"HTR3C","v1":-0.6,"v2":-1},
{"p":"OR","m":"B","r":29,"g":"BMX","v1":-0.3,"v2":-0.4},
{"p":"OR","m":"B","r":30,"g":"FRY","v1":-0.03,"v2":null},
{"p":"OR","m":"B","r":31,"g":"B4GALNT4","v1":-0.65,"v2":-0.45},
{"p":"OR","m":"B","r":32,"g":"STARD8","v1":-0.6,"v2":null},
{"p":"OR","m":"B","r":33,"g":"SH2D6","v1":-0.7,"v2":-0.8},
{"p":"OR","m":"B","r":34,"g":"TAS1R3","v1":-0.2,"v2":-0.5},
{"p":"OR","m":"B","r":35,"g":"TRPM5","v1":-0.6,"v2":-0.6},
{"p":"OR","m":"B","r":36,"g":"TAMALIN","v1":-0.2,"v2":null},
{"p":"FW","m":"A","r":0,"g":"JUNB","v1":0.45,"v2":null},
{"p":"FW","m":"A","r":1,"g":"MCL1","v1":0.3,"v2":null},
{"p":"FW","m":"A","r":2,"g":"RHBDF1","v1":0.35,"v2":0.2},
{"p":"FW","m":"A","r":3,"g":"AREG","v1":1,"v2":null},
{"p":"FW","m":"A","r":4,"g":"ABTB2","v1":0.45,"v2":0.4},
{"p":"FW","m":"A","r":5,"g":"BCL10","v1":0.15,"v2":null},
{"p":"FW","m":"A","r":6,"g":"SPTAN1","v1":0.05,"v2":null},
{"p":"FW","m":"A","r":7,"g":"RHOB","v1":0.45,"v2":null},
{"p":"FW","m":"A","r":8,"g":"CXCL16","v1":0.55,"v2":null},
{"p":"FW","m":"A","r":9,"g":"CASP10","v1":0.35,"v2":null},
{"p":"FW","m":"A","r":10,"g":"ZNF622","v1":0.05,"v2":null},
{"p":"FW","m":"A","r":11,"g":"IL3RA","v1":0.7,"v2":null},
{"p":"FW","m":"A","r":12,"g":"ATF3","v1":0.95,"v2":null},
{"p":"FW","m":"A","r":13,"g":"MUC17","v1":0.75,"v2":null},
{"p":"FW","m":"A","r":14,"g":"HERPUD1","v1":0.12,"v2":null},
{"p":"FW","m":"A","r":15,"g":"RNF19B","v1":0.15,"v2":null},
{"p":"FW","m":"A","r":16,"g":"FRMD3","v1":0.25,"v2":null},
{"p":"FW","m":"A","r":17,"g":"ERRFI1","v1":0.25,"v2":null},
{"p":"FW","m":"A","r":18,"g":"TENT5A","v1":0.2,"v2":null},
{"p":"FW","m":"A","r":19,"g":"NFKBIA","v1":0.12,"v2":null},
{"p":"FW","m":"A","r":20,"g":"FADS3","v1":0.3,"v2":null},
{"p":"FW","m":"A","r":21,"g":"ZFAND5","v1":0,"v2":null},
{"p":"FW","m":"A","r":22,"g":"ID1","v1":0.15,"v2":null},
{"p":"FW","m":"B","r":21,"g":"RHBDF1","v1":0,"v2":0.6},
{"p":"FW","m":"B","r":22,"g":"ABTB2","v1":0.55,"v2":1}
]
},
"concat": [
{"width": 340, "height": 732, "resolve": {"scale": {"x": "independent"}}, "layer": [
 {"data": {"values": [{}]}, "layer": [
  {"mark": {"type": "rect", "cornerRadius": 18, "fill": "#c5c5dc"}, "encoding": {"x": {"datum": 0, "type": "quantitative", "scale": {"domain": [0, 1], "nice": false, "zero": false}}, "x2": {"datum": 0.341}, "y": {"datum": -5.154, "type": "quantitative", "scale": {"domain": [-5.154, 46.035], "reverse": true, "nice": false, "zero": false}}, "y2": {"datum": 0.6}}},
  {"mark": {"type": "rect", "cornerRadius": 24, "fill": "#ffffff", "stroke": "#2d2b6b", "strokeWidth": 2.5}, "encoding": {"x": {"datum": 0, "type": "quantitative"}, "x2": {"datum": 1}, "y": {"datum": -2.17, "type": "quantitative"}, "y2": {"datum": 46.035}}},
  {"mark": {"type": "text", "text": "Blue", "align": "left", "baseline": "alphabetic", "fontSize": 28, "color": "#1a1a1a"}, "encoding": {"x": {"datum": 0.085, "type": "quantitative"}, "y": {"datum": -3.11, "type": "quantitative"}}}
 ]},
 {"data": {"name": "cells"}, "transform": [{"filter": "datum.p == 'Blue'"}], "layer": [
  {"transform": [{"fold": ["v1", "v2"]}, {"filter": "datum.value != null"}], "mark": {"type": "rect", "yOffset": -7.15, "y2Offset": 7.15}, "encoding": {"x": {"field": "m", "type": "nominal", "scale": {"domain": ["A", "B"], "range": [111, 296.6], "paddingInner": 0.7709, "paddingOuter": 0}}, "xOffset": {"field": "key", "type": "nominal", "scale": {"domain": ["v1", "v2"]}}, "y": {"field": "r", "type": "quantitative", "scale": {"domain": [-5.154, 46.035], "reverse": true, "nice": false, "zero": false}}, "y2": {"field": "r"}, "color": {"field": "value", "type": "quantitative", "scale": {"domain": [-1, 0, 1], "range": ["#0000c8", "#ffffff", "#ff0000"], "interpolate": "rgb"}, "legend": {"title": "Max/min-normalized fold-change", "values": [-1, -0.5, 0, 0.5, 1], "labelAlign": "center", "labelOffset": 11, "labelFontSize": 15.5, "labelExpr": "datum.value == 0 ? '0' : (datum.value < 0 ? '-' + format(-datum.value, '.1f') : format(datum.value, '.1f'))"}}}},
  {"transform": [{"fold": ["v1", "v2"]}, {"filter": "datum.value == null"}], "mark": {"type": "rect", "yOffset": -7.15, "y2Offset": 7.15, "color": "#d4d4d4"}, "encoding": {"x": {"field": "m", "type": "nominal"}, "xOffset": {"field": "key", "type": "nominal"}, "y": {"field": "r", "type": "quantitative"}, "y2": {"field": "r"}}},
  {"transform": [{"fold": ["v1", "v2"]}, {"filter": "datum.value == null"}], "mark": {"type": "point", "shape": "M-1,-0.827L1,0.827M1,-0.827L-1,0.827", "size": 299, "filled": false, "stroke": "#222222", "strokeWidth": 1.1, "opacity": 1}, "encoding": {"x": {"field": "m", "type": "nominal"}, "xOffset": {"field": "key", "type": "nominal"}, "y": {"field": "r", "type": "quantitative"}}},
  {"mark": {"type": "text", "align": "right", "baseline": "middle", "dx": -10, "fontSize": 15.5, "fontStyle": "italic", "color": "#1a1a1a"}, "encoding": {"x": {"field": "m", "type": "nominal", "bandPosition": 0}, "y": {"field": "r", "type": "quantitative"}, "text": {"field": "g"}}},
  {"mark": {"type": "rule", "xOffset": -8, "x2Offset": -2.5, "strokeWidth": 2, "color": "#000000"}, "encoding": {"x": {"field": "m", "type": "nominal", "bandPosition": 0}, "x2": {"field": "m", "bandPosition": 0}, "y": {"field": "r", "type": "quantitative"}}},
  {"mark": {"type": "rect", "fill": "transparent", "stroke": "#000000", "strokeWidth": 3, "yOffset": -7.15, "y2Offset": 7.15}, "encoding": {"x": {"field": "m", "type": "nominal"}, "y": {"field": "r", "aggregate": "min", "type": "quantitative"}, "y2": {"field": "r", "aggregate": "max"}}},
  {"data": {"name": "cols"}, "mark": {"type": "rule", "yOffset": 8.5, "y2Offset": 14.5, "strokeWidth": 2, "color": "#000000"}, "encoding": {"x": {"field": "m", "type": "nominal"}, "xOffset": {"field": "key", "type": "nominal"}, "y": {"datum": 39, "type": "quantitative"}, "y2": {"datum": 39}}},
  {"data": {"name": "cols"}, "mark": {"type": "text", "angle": 315, "align": "right", "baseline": "middle", "fontSize": 15.5, "yOffset": 22, "color": "#1a1a1a"}, "encoding": {"x": {"field": "m", "type": "nominal"}, "xOffset": {"field": "key", "type": "nominal"}, "y": {"datum": 39, "type": "quantitative"}, "text": {"field": "t"}}}
 ]}
]},
{"width": 340, "height": 732, "resolve": {"scale": {"x": "independent"}}, "layer": [
 {"data": {"values": [{}]}, "layer": [
  {"mark": {"type": "rect", "cornerRadius": 18, "fill": "#d9cac3"}, "encoding": {"x": {"datum": 0, "type": "quantitative", "scale": {"domain": [0, 1], "nice": false, "zero": false}}, "x2": {"datum": 0.409}, "y": {"datum": -5.154, "type": "quantitative", "scale": {"domain": [-5.154, 46.035], "reverse": true, "nice": false, "zero": false}}, "y2": {"datum": 0.6}}},
  {"mark": {"type": "rect", "cornerRadius": 24, "fill": "#ffffff", "stroke": "#5c3d2e", "strokeWidth": 2.5}, "encoding": {"x": {"datum": 0, "type": "quantitative"}, "x2": {"datum": 1}, "y": {"datum": -2.17, "type": "quantitative"}, "y2": {"datum": 46.035}}},
  {"mark": {"type": "text", "text": "Brown", "align": "left", "baseline": "alphabetic", "fontSize": 28, "color": "#1a1a1a"}, "encoding": {"x": {"datum": 0.085, "type": "quantitative"}, "y": {"datum": -3.11, "type": "quantitative"}}}
 ]},
 {"data": {"name": "cells"}, "transform": [{"filter": "datum.p == 'Brown'"}], "layer": [
  {"transform": [{"fold": ["v1", "v2"]}, {"filter": "datum.value != null"}], "mark": {"type": "rect", "yOffset": -7.15, "y2Offset": 7.15}, "encoding": {"x": {"field": "m", "type": "nominal", "scale": {"domain": ["A", "B"], "range": [111, 296.6], "paddingInner": 0.7709, "paddingOuter": 0}}, "xOffset": {"field": "key", "type": "nominal", "scale": {"domain": ["v1", "v2"]}}, "y": {"field": "r", "type": "quantitative", "scale": {"domain": [-5.154, 46.035], "reverse": true, "nice": false, "zero": false}}, "y2": {"field": "r"}, "color": {"field": "value", "type": "quantitative", "scale": {"domain": [-1, 0, 1], "range": ["#0000c8", "#ffffff", "#ff0000"], "interpolate": "rgb"}, "legend": {"title": "Max/min-normalized fold-change", "values": [-1, -0.5, 0, 0.5, 1], "labelAlign": "center", "labelOffset": 11, "labelFontSize": 15.5, "labelExpr": "datum.value == 0 ? '0' : (datum.value < 0 ? '-' + format(-datum.value, '.1f') : format(datum.value, '.1f'))"}}}},
  {"transform": [{"fold": ["v1", "v2"]}, {"filter": "datum.value == null"}], "mark": {"type": "rect", "yOffset": -7.15, "y2Offset": 7.15, "color": "#d4d4d4"}, "encoding": {"x": {"field": "m", "type": "nominal"}, "xOffset": {"field": "key", "type": "nominal"}, "y": {"field": "r", "type": "quantitative"}, "y2": {"field": "r"}}},
  {"transform": [{"fold": ["v1", "v2"]}, {"filter": "datum.value == null"}], "mark": {"type": "point", "shape": "M-1,-0.827L1,0.827M1,-0.827L-1,0.827", "size": 299, "filled": false, "stroke": "#222222", "strokeWidth": 1.1, "opacity": 1}, "encoding": {"x": {"field": "m", "type": "nominal"}, "xOffset": {"field": "key", "type": "nominal"}, "y": {"field": "r", "type": "quantitative"}}},
  {"mark": {"type": "text", "align": "right", "baseline": "middle", "dx": -10, "fontSize": 15.5, "fontStyle": "italic", "color": "#1a1a1a"}, "encoding": {"x": {"field": "m", "type": "nominal", "bandPosition": 0}, "y": {"field": "r", "type": "quantitative"}, "text": {"field": "g"}}},
  {"mark": {"type": "rule", "xOffset": -8, "x2Offset": -2.5, "strokeWidth": 2, "color": "#000000"}, "encoding": {"x": {"field": "m", "type": "nominal", "bandPosition": 0}, "x2": {"field": "m", "bandPosition": 0}, "y": {"field": "r", "type": "quantitative"}}},
  {"mark": {"type": "rect", "fill": "transparent", "stroke": "#000000", "strokeWidth": 3, "yOffset": -7.15, "y2Offset": 7.15}, "encoding": {"x": {"field": "m", "type": "nominal"}, "y": {"field": "r", "aggregate": "min", "type": "quantitative"}, "y2": {"field": "r", "aggregate": "max"}}},
  {"data": {"name": "cols"}, "mark": {"type": "rule", "yOffset": 8.5, "y2Offset": 14.5, "strokeWidth": 2, "color": "#000000"}, "encoding": {"x": {"field": "m", "type": "nominal"}, "xOffset": {"field": "key", "type": "nominal"}, "y": {"datum": 39, "type": "quantitative"}, "y2": {"datum": 39}}},
  {"data": {"name": "cols"}, "mark": {"type": "text", "angle": 315, "align": "right", "baseline": "middle", "fontSize": 15.5, "yOffset": 22, "color": "#1a1a1a"}, "encoding": {"x": {"field": "m", "type": "nominal"}, "xOffset": {"field": "key", "type": "nominal"}, "y": {"datum": 39, "type": "quantitative"}, "text": {"field": "t"}}}
 ]}
]},
{"width": 340, "height": 732, "resolve": {"scale": {"x": "independent"}}, "layer": [
 {"data": {"values": [{}]}, "layer": [
  {"mark": {"type": "rect", "cornerRadius": 18, "fill": "#c9d9ee"}, "encoding": {"x": {"datum": 0, "type": "quantitative", "scale": {"domain": [0, 1], "nice": false, "zero": false}}, "x2": {"datum": 0.688}, "y": {"datum": -5.154, "type": "quantitative", "scale": {"domain": [-5.154, 46.035], "reverse": true, "nice": false, "zero": false}}, "y2": {"datum": 0.6}}},
  {"mark": {"type": "rect", "cornerRadius": 24, "fill": "#ffffff", "stroke": "#5b87c5", "strokeWidth": 2.5}, "encoding": {"x": {"datum": 0, "type": "quantitative"}, "x2": {"datum": 1}, "y": {"datum": -2.17, "type": "quantitative"}, "y2": {"datum": 46.035}}},
  {"mark": {"type": "text", "text": "Lightsteelblue", "align": "left", "baseline": "alphabetic", "fontSize": 28, "color": "#1a1a1a"}, "encoding": {"x": {"datum": 0.085, "type": "quantitative"}, "y": {"datum": -3.11, "type": "quantitative"}}}
 ]},
 {"data": {"name": "cells"}, "transform": [{"filter": "datum.p == 'LSB'"}], "layer": [
  {"transform": [{"fold": ["v1", "v2"]}, {"filter": "datum.value != null"}], "mark": {"type": "rect", "yOffset": -7.15, "y2Offset": 7.15}, "encoding": {"x": {"field": "m", "type": "nominal", "scale": {"domain": ["A", "B"], "range": [111, 296.6], "paddingInner": 0.7709, "paddingOuter": 0}}, "xOffset": {"field": "key", "type": "nominal", "scale": {"domain": ["v1", "v2"]}}, "y": {"field": "r", "type": "quantitative", "scale": {"domain": [-5.154, 46.035], "reverse": true, "nice": false, "zero": false}}, "y2": {"field": "r"}, "color": {"field": "value", "type": "quantitative", "scale": {"domain": [-1, 0, 1], "range": ["#0000c8", "#ffffff", "#ff0000"], "interpolate": "rgb"}, "legend": {"title": "Max/min-normalized fold-change", "values": [-1, -0.5, 0, 0.5, 1], "labelAlign": "center", "labelOffset": 11, "labelFontSize": 15.5, "labelExpr": "datum.value == 0 ? '0' : (datum.value < 0 ? '-' + format(-datum.value, '.1f') : format(datum.value, '.1f'))"}}}},
  {"transform": [{"fold": ["v1", "v2"]}, {"filter": "datum.value == null"}], "mark": {"type": "rect", "yOffset": -7.15, "y2Offset": 7.15, "color": "#d4d4d4"}, "encoding": {"x": {"field": "m", "type": "nominal"}, "xOffset": {"field": "key", "type": "nominal"}, "y": {"field": "r", "type": "quantitative"}, "y2": {"field": "r"}}},
  {"transform": [{"fold": ["v1", "v2"]}, {"filter": "datum.value == null"}], "mark": {"type": "point", "shape": "M-1,-0.827L1,0.827M1,-0.827L-1,0.827", "size": 299, "filled": false, "stroke": "#222222", "strokeWidth": 1.1, "opacity": 1}, "encoding": {"x": {"field": "m", "type": "nominal"}, "xOffset": {"field": "key", "type": "nominal"}, "y": {"field": "r", "type": "quantitative"}}},
  {"mark": {"type": "text", "align": "right", "baseline": "middle", "dx": -10, "fontSize": 15.5, "fontStyle": "italic", "color": "#1a1a1a"}, "encoding": {"x": {"field": "m", "type": "nominal", "bandPosition": 0}, "y": {"field": "r", "type": "quantitative"}, "text": {"field": "g"}}},
  {"mark": {"type": "rule", "xOffset": -8, "x2Offset": -2.5, "strokeWidth": 2, "color": "#000000"}, "encoding": {"x": {"field": "m", "type": "nominal", "bandPosition": 0}, "x2": {"field": "m", "bandPosition": 0}, "y": {"field": "r", "type": "quantitative"}}},
  {"mark": {"type": "rect", "fill": "transparent", "stroke": "#000000", "strokeWidth": 3, "yOffset": -7.15, "y2Offset": 7.15}, "encoding": {"x": {"field": "m", "type": "nominal"}, "y": {"field": "r", "aggregate": "min", "type": "quantitative"}, "y2": {"field": "r", "aggregate": "max"}}},
  {"data": {"name": "cols"}, "mark": {"type": "rule", "yOffset": 8.5, "y2Offset": 14.5, "strokeWidth": 2, "color": "#000000"}, "encoding": {"x": {"field": "m", "type": "nominal"}, "xOffset": {"field": "key", "type": "nominal"}, "y": {"datum": 39, "type": "quantitative"}, "y2": {"datum": 39}}},
  {"data": {"name": "cols"}, "mark": {"type": "text", "angle": 315, "align": "right", "baseline": "middle", "fontSize": 15.5, "yOffset": 22, "color": "#1a1a1a"}, "encoding": {"x": {"field": "m", "type": "nominal"}, "xOffset": {"field": "key", "type": "nominal"}, "y": {"datum": 39, "type": "quantitative"}, "text": {"field": "t"}}}
 ]}
]},
{"width": 340, "height": 731, "resolve": {"scale": {"x": "independent"}}, "layer": [
 {"data": {"values": [{}]}, "layer": [
  {"mark": {"type": "rect", "cornerRadius": 18, "fill": "#c3dcb7"}, "encoding": {"x": {"datum": 0, "type": "quantitative", "scale": {"domain": [0, 1], "nice": false, "zero": false}}, "x2": {"datum": 0.7256}, "y": {"datum": -5.17, "type": "quantitative", "scale": {"domain": [-5.2448, 45.874], "reverse": true, "nice": false, "zero": false}}, "y2": {"datum": 0.6}}},
  {"mark": {"type": "rect", "cornerRadius": 24, "fill": "#f6f6f6", "stroke": "#3d8a22", "strokeWidth": 2.5}, "encoding": {"x": {"datum": 0, "type": "quantitative"}, "x2": {"datum": 1}, "y": {"datum": -2.17, "type": "quantitative"}, "y2": {"datum": 45.874}}},
  {"mark": {"type": "text", "text": "Darkolivegreen", "align": "left", "baseline": "alphabetic", "fontSize": 28, "color": "#1a1a1a"}, "encoding": {"x": {"datum": 0.085, "type": "quantitative"}, "y": {"datum": -3.11, "type": "quantitative"}}}
 ]},
 {"data": {"name": "cells"}, "transform": [{"filter": "datum.p == 'DOG'"}], "layer": [
  {"transform": [{"fold": ["v1", "v2"]}, {"filter": "datum.value != null"}], "mark": {"type": "rect", "yOffset": -7.15, "y2Offset": 7.15}, "encoding": {"x": {"field": "m", "type": "nominal", "scale": {"domain": ["A", "B"], "range": [111, 296.6], "paddingInner": 0.7709, "paddingOuter": 0}}, "xOffset": {"field": "key", "type": "nominal", "scale": {"domain": ["v1", "v2"]}}, "y": {"field": "r", "type": "quantitative", "scale": {"domain": [-5.2448, 45.874], "reverse": true, "nice": false, "zero": false}}, "y2": {"field": "r"}, "color": {"field": "value", "type": "quantitative", "scale": {"domain": [-1, 0, 1], "range": ["#0000c8", "#ffffff", "#ff0000"], "interpolate": "rgb"}, "legend": {"title": "Max/min-normalized fold-change", "values": [-1, -0.5, 0, 0.5, 1], "labelAlign": "center", "labelOffset": 11, "labelFontSize": 15.5, "labelExpr": "datum.value == 0 ? '0' : (datum.value < 0 ? '-' + format(-datum.value, '.1f') : format(datum.value, '.1f'))"}}}},
  {"transform": [{"fold": ["v1", "v2"]}, {"filter": "datum.value == null"}], "mark": {"type": "rect", "yOffset": -7.15, "y2Offset": 7.15, "color": "#d4d4d4"}, "encoding": {"x": {"field": "m", "type": "nominal"}, "xOffset": {"field": "key", "type": "nominal"}, "y": {"field": "r", "type": "quantitative"}, "y2": {"field": "r"}}},
  {"transform": [{"fold": ["v1", "v2"]}, {"filter": "datum.value == null"}], "mark": {"type": "point", "shape": "M-1,-0.827L1,0.827M1,-0.827L-1,0.827", "size": 299, "filled": false, "stroke": "#222222", "strokeWidth": 1.1, "opacity": 1}, "encoding": {"x": {"field": "m", "type": "nominal"}, "xOffset": {"field": "key", "type": "nominal"}, "y": {"field": "r", "type": "quantitative"}}},
  {"mark": {"type": "text", "align": "right", "baseline": "middle", "dx": -10, "fontSize": 15.5, "fontStyle": "italic", "color": "#1a1a1a"}, "encoding": {"x": {"field": "m", "type": "nominal", "bandPosition": 0}, "y": {"field": "r", "type": "quantitative"}, "text": {"field": "g"}}},
  {"mark": {"type": "rule", "xOffset": -8, "x2Offset": -2.5, "strokeWidth": 2, "color": "#000000"}, "encoding": {"x": {"field": "m", "type": "nominal", "bandPosition": 0}, "x2": {"field": "m", "bandPosition": 0}, "y": {"field": "r", "type": "quantitative"}}},
  {"mark": {"type": "rect", "fill": "transparent", "stroke": "#000000", "strokeWidth": 3, "yOffset": -7.15, "y2Offset": 7.15}, "encoding": {"x": {"field": "m", "type": "nominal"}, "y": {"field": "r", "aggregate": "min", "type": "quantitative"}, "y2": {"field": "r", "aggregate": "max"}}},
  {"data": {"name": "cols"}, "mark": {"type": "rule", "yOffset": 8.5, "y2Offset": 14.5, "strokeWidth": 2, "color": "#000000"}, "encoding": {"x": {"field": "m", "type": "nominal"}, "xOffset": {"field": "key", "type": "nominal"}, "y": {"datum": 39, "type": "quantitative"}, "y2": {"datum": 39}}},
  {"data": {"name": "cols"}, "mark": {"type": "text", "angle": 315, "align": "right", "baseline": "middle", "fontSize": 15.5, "yOffset": 22, "color": "#1a1a1a"}, "encoding": {"x": {"field": "m", "type": "nominal"}, "xOffset": {"field": "key", "type": "nominal"}, "y": {"datum": 39, "type": "quantitative"}, "text": {"field": "t"}}}
 ]}
]},
{"width": 340, "height": 731, "resolve": {"scale": {"x": "independent"}}, "layer": [
 {"data": {"values": [{}]}, "layer": [
  {"mark": {"type": "rect", "cornerRadius": 18, "fill": "#f7c6b6"}, "encoding": {"x": {"datum": 0, "type": "quantitative", "scale": {"domain": [0, 1], "nice": false, "zero": false}}, "x2": {"datum": 0.585}, "y": {"datum": -5.17, "type": "quantitative", "scale": {"domain": [-8.2448, 42.874], "reverse": true, "nice": false, "zero": false}}, "y2": {"datum": 0.6}}},
  {"mark": {"type": "rect", "cornerRadius": 24, "fill": "#ffffff", "stroke": "#e04a1f", "strokeWidth": 2.5}, "encoding": {"x": {"datum": 0, "type": "quantitative"}, "x2": {"datum": 1}, "y": {"datum": -2.17, "type": "quantitative"}, "y2": {"datum": 42.874}}},
  {"mark": {"type": "text", "text": "Orangered", "align": "left", "baseline": "alphabetic", "fontSize": 28, "color": "#1a1a1a"}, "encoding": {"x": {"datum": 0.085, "type": "quantitative"}, "y": {"datum": -3.11, "type": "quantitative"}}}
 ]},
 {"data": {"name": "cells"}, "transform": [{"filter": "datum.p == 'OR'"}], "layer": [
  {"transform": [{"fold": ["v1", "v2"]}, {"filter": "datum.value != null"}], "mark": {"type": "rect", "yOffset": -7.15, "y2Offset": 7.15}, "encoding": {"x": {"field": "m", "type": "nominal", "scale": {"domain": ["A", "B"], "range": [111, 296.6], "paddingInner": 0.7709, "paddingOuter": 0}}, "xOffset": {"field": "key", "type": "nominal", "scale": {"domain": ["v1", "v2"]}}, "y": {"field": "r", "type": "quantitative", "scale": {"domain": [-8.2448, 42.874], "reverse": true, "nice": false, "zero": false}}, "y2": {"field": "r"}, "color": {"field": "value", "type": "quantitative", "scale": {"domain": [-1, 0, 1], "range": ["#0000c8", "#ffffff", "#ff0000"], "interpolate": "rgb"}, "legend": {"title": "Max/min-normalized fold-change", "values": [-1, -0.5, 0, 0.5, 1], "labelAlign": "center", "labelOffset": 11, "labelFontSize": 15.5, "labelExpr": "datum.value == 0 ? '0' : (datum.value < 0 ? '-' + format(-datum.value, '.1f') : format(datum.value, '.1f'))"}}}},
  {"transform": [{"fold": ["v1", "v2"]}, {"filter": "datum.value == null"}], "mark": {"type": "rect", "yOffset": -7.15, "y2Offset": 7.15, "color": "#d4d4d4"}, "encoding": {"x": {"field": "m", "type": "nominal"}, "xOffset": {"field": "key", "type": "nominal"}, "y": {"field": "r", "type": "quantitative"}, "y2": {"field": "r"}}},
  {"transform": [{"fold": ["v1", "v2"]}, {"filter": "datum.value == null"}], "mark": {"type": "point", "shape": "M-1,-0.827L1,0.827M1,-0.827L-1,0.827", "size": 299, "filled": false, "stroke": "#222222", "strokeWidth": 1.1, "opacity": 1}, "encoding": {"x": {"field": "m", "type": "nominal"}, "xOffset": {"field": "key", "type": "nominal"}, "y": {"field": "r", "type": "quantitative"}}},
  {"mark": {"type": "text", "align": "right", "baseline": "middle", "dx": -10, "fontSize": 15.5, "fontStyle": "italic", "color": "#1a1a1a"}, "encoding": {"x": {"field": "m", "type": "nominal", "bandPosition": 0}, "y": {"field": "r", "type": "quantitative"}, "text": {"field": "g"}}},
  {"mark": {"type": "rule", "xOffset": -8, "x2Offset": -2.5, "strokeWidth": 2, "color": "#000000"}, "encoding": {"x": {"field": "m", "type": "nominal", "bandPosition": 0}, "x2": {"field": "m", "bandPosition": 0}, "y": {"field": "r", "type": "quantitative"}}},
  {"mark": {"type": "rect", "fill": "transparent", "stroke": "#000000", "strokeWidth": 3, "yOffset": -7.15, "y2Offset": 7.15}, "encoding": {"x": {"field": "m", "type": "nominal"}, "y": {"field": "r", "aggregate": "min", "type": "quantitative"}, "y2": {"field": "r", "aggregate": "max"}}},
  {"data": {"name": "cols"}, "mark": {"type": "rule", "yOffset": 8.5, "y2Offset": 14.5, "strokeWidth": 2, "color": "#000000"}, "encoding": {"x": {"field": "m", "type": "nominal"}, "xOffset": {"field": "key", "type": "nominal"}, "y": {"datum": 36, "type": "quantitative"}, "y2": {"datum": 36}}},
  {"data": {"name": "cols"}, "mark": {"type": "text", "angle": 315, "align": "right", "baseline": "middle", "fontSize": 15.5, "yOffset": 22, "color": "#1a1a1a"}, "encoding": {"x": {"field": "m", "type": "nominal"}, "xOffset": {"field": "key", "type": "nominal"}, "y": {"datum": 36, "type": "quantitative"}, "text": {"field": "t"}}}
 ]}
]},
{"width": 340, "height": 731, "resolve": {"scale": {"x": "independent"}}, "layer": [
 {"data": {"values": [{}]}, "layer": [
  {"mark": {"type": "rect", "cornerRadius": 18, "fill": "#ece7dc"}, "encoding": {"x": {"datum": 0, "type": "quantitative", "scale": {"domain": [0, 1], "nice": false, "zero": false}}, "x2": {"datum": 0.5735}, "y": {"datum": -5.17, "type": "quantitative", "scale": {"domain": [-22.245, 28.874], "reverse": true, "nice": false, "zero": false}}, "y2": {"datum": 0.6}}},
  {"mark": {"type": "rect", "cornerRadius": 24, "fill": "#ffffff", "stroke": "#bfb295", "strokeWidth": 2.5}, "encoding": {"x": {"datum": 0, "type": "quantitative"}, "x2": {"datum": 1}, "y": {"datum": -2.17, "type": "quantitative"}, "y2": {"datum": 28.874}}},
  {"mark": {"type": "text", "text": "Floralwhite", "align": "left", "baseline": "alphabetic", "fontSize": 28, "color": "#1a1a1a"}, "encoding": {"x": {"datum": 0.085, "type": "quantitative"}, "y": {"datum": -3.11, "type": "quantitative"}}}
 ]},
 {"data": {"name": "cells"}, "transform": [{"filter": "datum.p == 'FW'"}], "layer": [
  {"transform": [{"fold": ["v1", "v2"]}, {"filter": "datum.value != null"}], "mark": {"type": "rect", "yOffset": -7.15, "y2Offset": 7.15}, "encoding": {"x": {"field": "m", "type": "nominal", "scale": {"domain": ["A", "B"], "range": [111, 296.6], "paddingInner": 0.7709, "paddingOuter": 0}}, "xOffset": {"field": "key", "type": "nominal", "scale": {"domain": ["v1", "v2"]}}, "y": {"field": "r", "type": "quantitative", "scale": {"domain": [-22.245, 28.874], "reverse": true, "nice": false, "zero": false}}, "y2": {"field": "r"}, "color": {"field": "value", "type": "quantitative", "scale": {"domain": [-1, 0, 1], "range": ["#0000c8", "#ffffff", "#ff0000"], "interpolate": "rgb"}, "legend": {"title": "Max/min-normalized fold-change", "values": [-1, -0.5, 0, 0.5, 1], "labelAlign": "center", "labelOffset": 11, "labelFontSize": 15.5, "labelExpr": "datum.value == 0 ? '0' : (datum.value < 0 ? '-' + format(-datum.value, '.1f') : format(datum.value, '.1f'))"}}}},
  {"transform": [{"fold": ["v1", "v2"]}, {"filter": "datum.value == null"}], "mark": {"type": "rect", "yOffset": -7.15, "y2Offset": 7.15, "color": "#d4d4d4"}, "encoding": {"x": {"field": "m", "type": "nominal"}, "xOffset": {"field": "key", "type": "nominal"}, "y": {"field": "r", "type": "quantitative"}, "y2": {"field": "r"}}},
  {"transform": [{"fold": ["v1", "v2"]}, {"filter": "datum.value == null"}], "mark": {"type": "point", "shape": "M-1,-0.827L1,0.827M1,-0.827L-1,0.827", "size": 299, "filled": false, "stroke": "#222222", "strokeWidth": 1.1, "opacity": 1}, "encoding": {"x": {"field": "m", "type": "nominal"}, "xOffset": {"field": "key", "type": "nominal"}, "y": {"field": "r", "type": "quantitative"}}},
  {"mark": {"type": "text", "align": "right", "baseline": "middle", "dx": -10, "fontSize": 15.5, "fontStyle": "italic", "color": "#1a1a1a"}, "encoding": {"x": {"field": "m", "type": "nominal", "bandPosition": 0}, "y": {"field": "r", "type": "quantitative"}, "text": {"field": "g"}}},
  {"mark": {"type": "rule", "xOffset": -8, "x2Offset": -2.5, "strokeWidth": 2, "color": "#000000"}, "encoding": {"x": {"field": "m", "type": "nominal", "bandPosition": 0}, "x2": {"field": "m", "bandPosition": 0}, "y": {"field": "r", "type": "quantitative"}}},
  {"mark": {"type": "rect", "fill": "transparent", "stroke": "#000000", "strokeWidth": 3, "yOffset": -7.15, "y2Offset": 7.15}, "encoding": {"x": {"field": "m", "type": "nominal"}, "y": {"field": "r", "aggregate": "min", "type": "quantitative"}, "y2": {"field": "r", "aggregate": "max"}}},
  {"data": {"name": "cols"}, "mark": {"type": "rule", "yOffset": 8.5, "y2Offset": 14.5, "strokeWidth": 2, "color": "#000000"}, "encoding": {"x": {"field": "m", "type": "nominal"}, "xOffset": {"field": "key", "type": "nominal"}, "y": {"datum": 22, "type": "quantitative"}, "y2": {"datum": 22}}},
  {"data": {"name": "cols"}, "mark": {"type": "text", "angle": 315, "align": "right", "baseline": "middle", "fontSize": 15.5, "yOffset": 22, "color": "#1a1a1a"}, "encoding": {"x": {"field": "m", "type": "nominal"}, "xOffset": {"field": "key", "type": "nominal"}, "y": {"datum": 22, "type": "quantitative"}, "text": {"field": "t"}}}
 ]}
]}
],
"columns": 3,
"spacing": 31,
"bounds": "flush"
}
